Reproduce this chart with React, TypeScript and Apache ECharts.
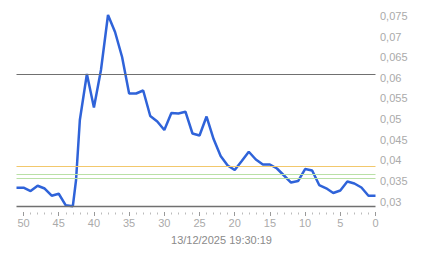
import React, { useEffect, useRef } from "react";
import * as echarts from "echarts";

const ages = [51, 50, 49, 48, 47, 46, 45, 44, 43, 42.54, 42, 41, 40, 39, 38, 37, 36, 35, 34, 33, 32, 31, 30, 29, 28, 27, 26, 25, 24, 23, 22, 21, 20, 19, 18, 17, 16, 15, 14, 13, 12, 11, 10, 9, 8, 7, 6, 5, 4, 3, 2, 1, 0];
const prices = [0.03335, 0.03335, 0.03255, 0.03383, 0.03315, 0.03141, 0.03189, 0.02908, 0.02884, 0.03522, 0.04977, 0.06093, 0.0528, 0.0619, 0.07525, 0.07112, 0.06506, 0.0562, 0.0562, 0.05693, 0.05074, 0.04941, 0.04735, 0.05147, 0.05135, 0.05179, 0.0465, 0.04601, 0.05062, 0.04516, 0.04104, 0.03873, 0.03764, 0.03983, 0.04208, 0.04019, 0.03898, 0.03898, 0.03801, 0.03631, 0.03461, 0.03497, 0.03788, 0.03752, 0.034, 0.0332, 0.03206, 0.03267, 0.03485, 0.03437, 0.0334, 0.03141, 0.03141];
const yTicks = [0.03, 0.035, 0.04, 0.045, 0.05, 0.055, 0.06, 0.065, 0.07, 0.075];
const xMajorTicks = [0, 5, 10, 15, 20, 25, 30, 35, 40, 45, 50];
const xMinorTicks = Array.from({ length: 51 }, (_, i) => i).filter((v) => v % 5 !== 0);
const levels = [
  { value: 0.0608, color: "#707070" },
  { value: 0.0385, color: "#f2c86c" },
  { value: 0.0366, color: "#b9e0a6" },
  { value: 0.0356, color: "#b9e0a6" },
];
const timestamp = "13/12/2025 19:30:19";

export default function App() {
  const ref = useRef<HTMLDivElement>(null);
  useEffect(() => {
    if (!ref.current) return;
    const chart = echarts.init(ref.current, null, { renderer: "svg" });
    const yMin = Math.min(...prices);
    const yMax = Math.max(...prices);
    const fmt = (v: number) =>
      v.toFixed(3).replace(/0+$/, "").replace(".", ",");
    chart.setOption({
      animation: false,
      title: {
        text: timestamp,
        left: "center",
        top: 234,
        textStyle: {
          color: "#8a8a8a",
          fontSize: 11,
          fontWeight: "normal",
          fontFamily: "Liberation Sans, Arial, sans-serif",
        },
        padding: 0,
      },
      grid: { left: 16.5, right: 67.5, top: 15, bottom: 51.7 },
      xAxis: [
        {
          type: "value",
          inverse: true,
          min: 0,
          max: 51,
          offset: 5.7,
          axisLine: { show: false },
          splitLine: { show: false },
          axisTick: {
            show: true,
            length: 4,
            customValues: xMajorTicks,
            lineStyle: { color: "#999", width: 1 },
          },
          axisLabel: {
            customValues: xMajorTicks,
            color: "#aaaaaa",
            fontSize: 11,
            fontFamily: "Liberation Sans, Arial, sans-serif",
            margin: 5,
          },
        },
        {
          type: "value",
          inverse: true,
          min: 0,
          max: 51,
          offset: 6.2,
          position: "bottom",
          axisLine: { show: false },
          splitLine: { show: false },
          axisLabel: { show: false },
          axisTick: {
            show: true,
            length: 2,
            customValues: xMinorTicks,
            lineStyle: { color: "#bbb", width: 1 },
          },
        },
      ],
      yAxis: {
        type: "value",
        position: "right",
        min: yMin,
        max: yMax,
        axisLine: { show: false },
        axisTick: { show: false },
        splitLine: { show: false },
        axisLabel: {
          customValues: yTicks,
          formatter: (v: number) => fmt(v),
          color: "#aaaaaa",
          fontSize: 11,
          fontFamily: "Liberation Sans, Arial, sans-serif",
          margin: 4.5,
        },
      },
      series: [
        {
          type: "line",
          xAxisIndex: 0,
          data: ages.map((a, i) => [a, prices[i]]),
          showSymbol: false,
          clip: false,
          lineStyle: { color: "#2f63d9", width: 2.5 },
          markLine: {
            silent: true,
            symbol: "none",
            precision: 6,
            label: { show: false },
            data: [
              ...levels.map((l) => ({
                yAxis: l.value,
                lineStyle: { color: l.color, width: 1, type: "solid" },
              })),
              {
                yAxis: yMin,
                lineStyle: { color: "#707070", width: 1.3, type: "solid" },
              },
            ],
          },
          z: 3,
        },
      ],
    });
    return () => chart.dispose();
  }, []);
  return <div ref={ref} style={{ width: 443, height: 258, position: "absolute", left: 0, top: 0 }} />;
}
